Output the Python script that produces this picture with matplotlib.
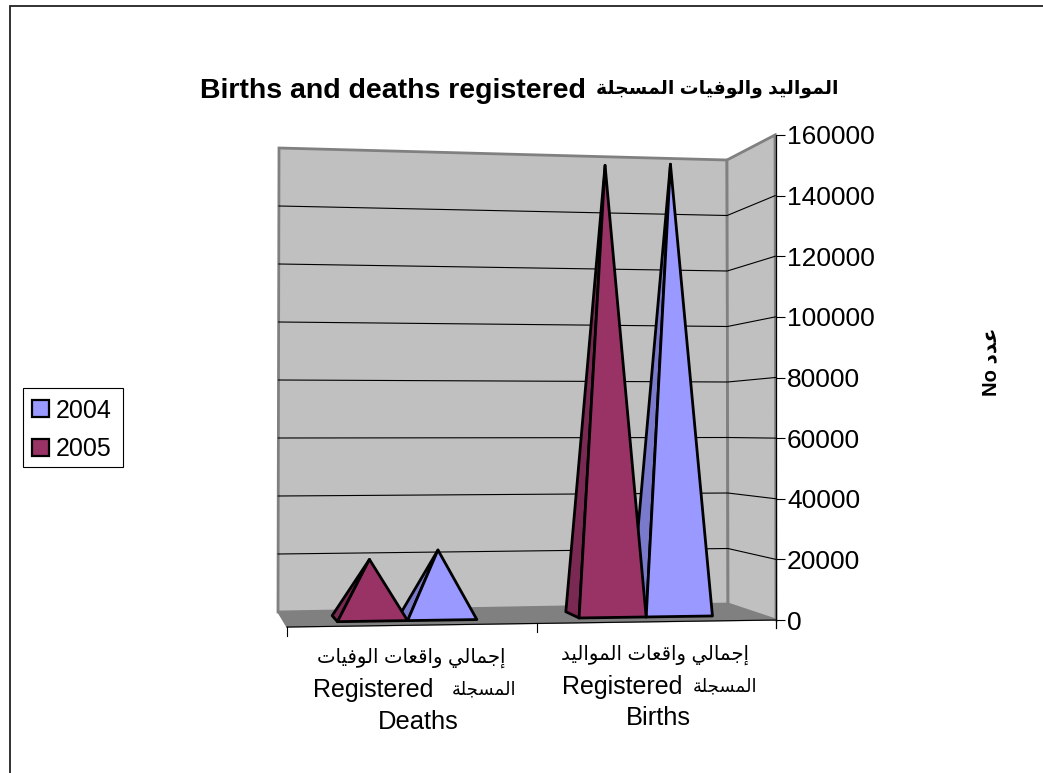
import matplotlib
matplotlib.use("Agg")
import matplotlib.pyplot as plt
from matplotlib.patches import Patch, Polygon, Rectangle

plt.rcParams["font.family"] = ["Liberation Sans", "DejaVu Sans"]

### Data
years = ["2004", "2005"]
categories_ar = ["إجمالي واقعات الوفيات", "إجمالي واقعات المواليد"]
categories_en = ["Deaths", "Births"]
word_registered = "Registered"
word_registered_ar = "المسجلة"
values_2004 = [22400, 153500]
values_2005 = [19500, 152500]
value_ticks = [0, 20000, 40000, 60000, 80000, 100000, 120000, 140000, 160000]
title_en = "Births and deaths registered"
title_ar = "المواليد والوفيات المسجلة"
ylabel_ar = "عدد"

colors_front = {"2004": "#9999FF", "2005": "#993366"}
colors_side = {"2004": "#7A7ACC", "2005": "#7A2952"}

W, H = 1043, 773

# box corners in pixels: (front/back, left/right, bottom/top)
FLB, FRB = (287, 627), (776, 620)
BLB, BRB = (278, 612), (728, 604)
FLT, FRT = (287, 120), (775, 135)
BLT, BRT = (279, 148), (727, 160)
VMAX = value_ticks[-1]
WARP = 0.045  # perspective along the category axis


def lerp(a, b, t):
    return (a[0] + (b[0] - a[0]) * t, a[1] + (b[1] - a[1]) * t)


def proj(u, value, depth):
    """u 0-1 along categories, depth 0 front to 1 back -> pixel position"""
    u = (1 + WARP) * u / (1 + WARP * u)
    t = value / VMAX
    front = lerp(lerp(FLB, FRB, u), lerp(FLT, FRT, u), t)
    back = lerp(lerp(BLB, BRB, u), lerp(BLT, BRT, u), t)
    return lerp(front, back, depth)


# --- Arabic has to be shaped by hand, matplotlib only draws glyphs in order ---
FORMS = {
    "ا": (0xFE8D, 0xFE8E, None, None),
    "إ": (0xFE87, 0xFE88, None, None),
    "و": (0xFEED, 0xFEEE, None, None),
    "د": (0xFEA9, 0xFEAA, None, None),
    "ة": (0xFE93, 0xFE94, None, None),
    "ل": (0xFEDD, 0xFEDE, 0xFEDF, 0xFEE0),
    "م": (0xFEE1, 0xFEE2, 0xFEE3, 0xFEE4),
    "ي": (0xFEF1, 0xFEF2, 0xFEF3, 0xFEF4),
    "ف": (0xFED1, 0xFED2, 0xFED3, 0xFED4),
    "ت": (0xFE95, 0xFE96, 0xFE97, 0xFE98),
    "س": (0xFEB1, 0xFEB2, 0xFEB3, 0xFEB4),
    "ج": (0xFE9D, 0xFE9E, 0xFE9F, 0xFEA0),
    "ق": (0xFED5, 0xFED6, 0xFED7, 0xFED8),
    "ع": (0xFEC9, 0xFECA, 0xFECB, 0xFECC),
}


def visual(text):
    out = []
    for i, ch in enumerate(text):
        if ch not in FORMS:
            out.append(ch)
            continue
        prev = text[i - 1] if i > 0 else " "
        nxt = text[i + 1] if i < len(text) - 1 else " "
        join_prev = prev in FORMS and FORMS[prev][2] is not None
        join_next = nxt in FORMS and FORMS[ch][2] is not None
        if join_prev and join_next:
            form = FORMS[ch][3]
        elif join_prev:
            form = FORMS[ch][1]
        elif join_next:
            form = FORMS[ch][2]
        else:
            form = FORMS[ch][0]
        out.append(chr(form))
    return "".join(reversed(out))


fig = plt.figure(figsize=(W / 100, H / 100), dpi=100, facecolor="white")
ax = fig.add_axes([0, 0, 1, 1])
ax.set_xlim(0, W)
ax.set_ylim(H, 0)
ax.axis("off")

# chart area border, only top and left are inside the crop
ax.plot([9.5, 9.5, W], [H, 5.5, 5.5], color="#222222", lw=1.3, solid_joinstyle="miter")

# walls and floor
ax.add_patch(Polygon([BLB, BRB, BRT, BLT], fc="#C0C0C0", ec="#808080", lw=2))
ax.add_patch(Polygon([BRB, FRB, FRT, BRT], fc="#C0C0C0", ec="#808080", lw=2))
ax.add_patch(Polygon([BLB, BRB, FRB, FLB], fc="#808080", ec="#808080", lw=1))

for v in value_ticks[1:-1]:
    a, b, c = proj(0, v, 1), proj(1, v, 1), proj(1, v, 0)
    ax.plot([a[0], b[0], c[0]], [a[1], b[1], c[1]], color="black", lw=0.8, zorder=2)

# category axis
ax.plot([FLB[0], FRB[0]], [FLB[1], FRB[1]], color="black", lw=0.8, zorder=3)
ax.plot([FRB[0], FRB[0]], [FRB[1], FRB[1] + 8], color="black", lw=0.9, zorder=3)
for u in [0, 0.5]:
    p = proj(u, 0, 0)
    ax.plot([p[0], p[0]], [p[1], p[1] + 9], color="black", lw=0.8, zorder=3)

# pyramids, gap width 150%
bar_w = 1 / 7
d_front, d_back = 0.3, 0.7
series = [("2004", values_2004, 0), ("2005", values_2005, -1)]
for year, values, offset in series:
    for i, val in enumerate(values):
        u0 = (i + 0.5) / 2 + offset * bar_w
        u1 = u0 + bar_w
        apex = proj((u0 + u1) / 2, val, 0.5)
        fl, fr = proj(u0, 0, d_front), proj(u1, 0, d_front)
        bl = proj(u0, 0, d_back)
        ax.add_patch(Polygon([bl, fl, apex], fc=colors_side[year], ec="black",
                             lw=2, joinstyle="round", zorder=4))
        ax.add_patch(Polygon([fl, fr, apex], fc=colors_front[year], ec="black",
                             lw=2, joinstyle="round", zorder=4))

# value axis is a real axes laid over the right edge of the box
vax = fig.add_axes([FLB[0] / W, 1 - FRB[1] / H, (FRB[0] - FLB[0]) / W, (FRB[1] - FRT[1]) / H])
vax.patch.set_visible(False)
vax.set_xlim(0, 1)
vax.set_ylim(0, VMAX)
vax.set_xticks([])
for s in ["left", "top", "bottom"]:
    vax.spines[s].set_visible(False)
vax.spines["right"].set_linewidth(0.9)
vax.yaxis.tick_right()
vax.set_yticks(value_ticks)
vax.tick_params(axis="y", length=6.5, width=0.8, pad=1.5, labelsize=19)
vax.yaxis.set_label_position("right")
vax.set_ylabel("No " + visual(ylabel_ar), rotation=90, fontsize=14.5, fontweight="bold",
               va="center", ha="center")
vax.yaxis.set_label_coords((991 - FLB[0]) / (FRB[0] - FLB[0]), (FRB[1] - 362) / (FRB[1] - FRT[1]))

# title, the Arabic runs smaller than the Latin part in the original
ax.text(200, 98, title_en, ha="left", va="baseline", fontsize=20.5, fontweight="bold")
ax.text(838, 89, visual(title_ar), ha="right", va="center", fontsize=13.5, fontweight="bold")

# category labels
line1_x = [411, 655]
line1_y = [658, 655]
reg_x = [313, 562]
reg_ar_x = [452, 693]
line2_y = [690, 687]
line3_x = [418, 658]
line3_y = [722, 718]
for i in range(2):
    ax.text(line1_x[i], line1_y[i], visual(categories_ar[i]), ha="center", va="center", fontsize=14.1)
    ax.text(reg_x[i], line2_y[i], word_registered, ha="left", va="center", fontsize=18)
    ax.text(reg_ar_x[i], line2_y[i], visual(word_registered_ar), ha="left", va="center", fontsize=13)
    ax.text(line3_x[i], line3_y[i], categories_en[i], ha="center", va="center", fontsize=18.4)

# legend
ax.add_patch(Rectangle((23, 388), 100, 79, fc="white", ec="black", lw=0.8))
handles = [Patch(fc=colors_front[y], ec="black", lw=1.6, label=y) for y in years]
leg = ax.legend(handles=handles, loc="center left", bbox_to_anchor=(32 / W, 1 - 430 / H),
                bbox_transform=fig.transFigure, fontsize=18, frameon=False,
                handlelength=0.66, handleheight=0.66, handletextpad=0.28,
                labelspacing=0.6, borderpad=0, borderaxespad=0)

plt.savefig("out.png", dpi=100)
